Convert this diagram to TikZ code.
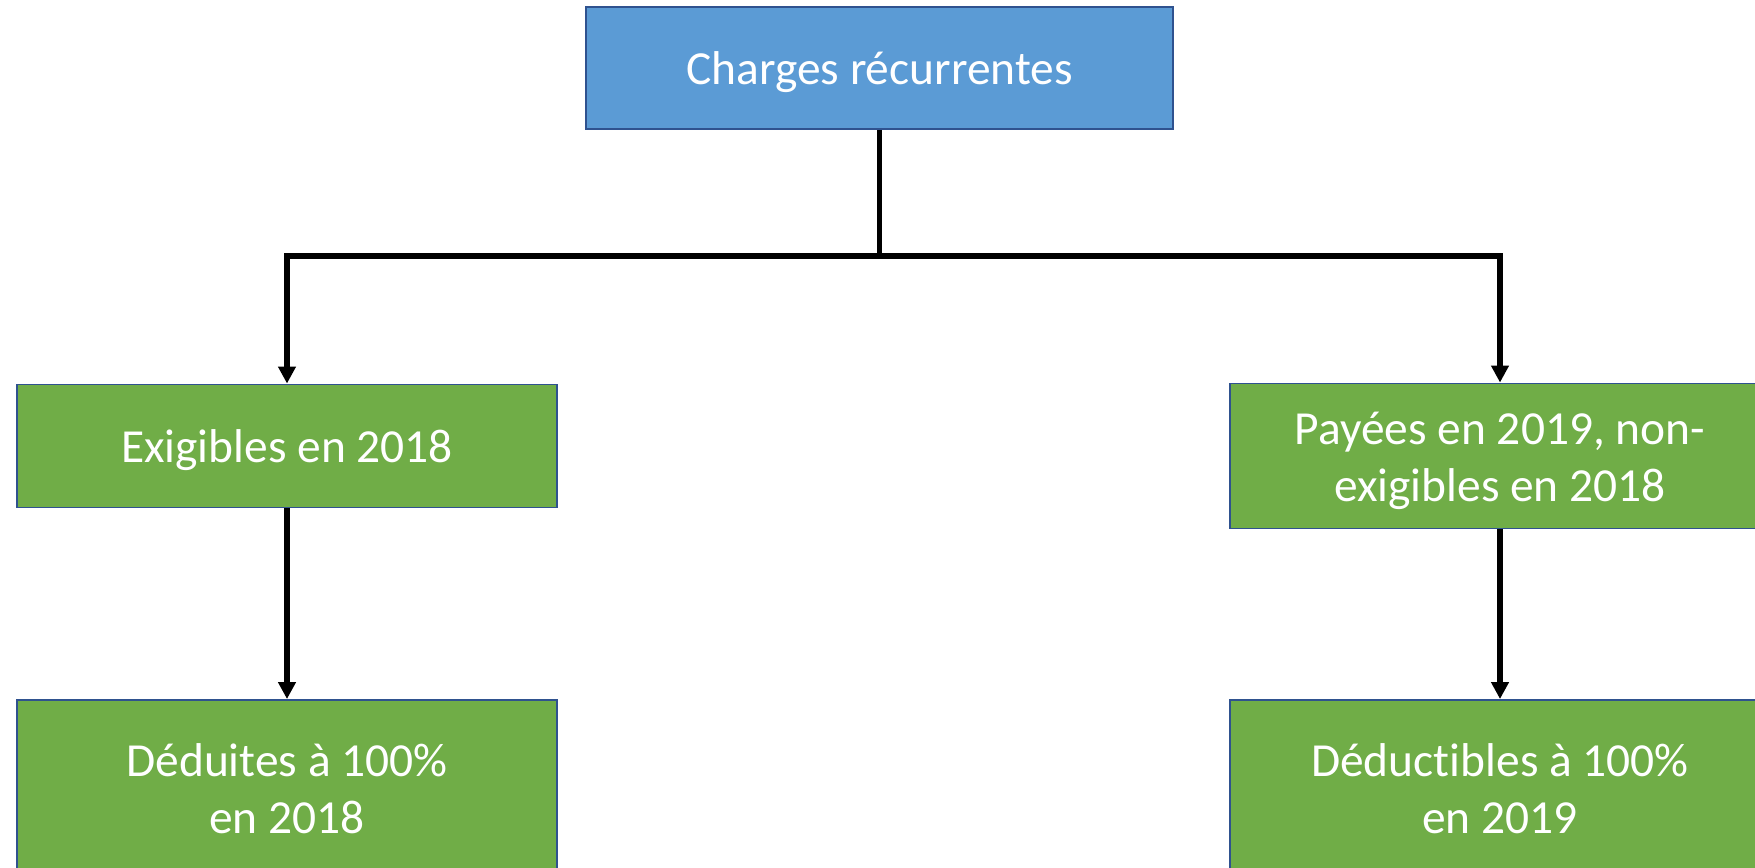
\documentclass[tikz,border=0pt]{standalone}
\usepackage{fontspec}
\setmainfont{Carlito}[Ligatures=NoCommon]
\usetikzlibrary{arrows.meta}
\definecolor{hdrblue}{HTML}{5B9BD5}
\definecolor{leafgreen}{HTML}{70AD47}
\definecolor{edgeblue}{HTML}{2F528F}
\tikzset{
  chargebox/.style={draw=edgeblue, line width=1.1pt, text=white, align=center,
    font=\fontsize{27}{32.6}\selectfont, inner sep=0pt, minimum width=10.82cm,
    text height=19.2pt, text depth=0pt},
  twolines/.style={text height=51.8pt, text depth=0pt},
  headbox/.style={chargebox, fill=hdrblue, minimum width=11.74cm, minimum height=2.44cm},
  greenbox/.style={chargebox, fill=leafgreen},
  link/.style={->, line width=3pt}
}
\begin{document}
\begin{tikzpicture}[x=0.02cm, y=-0.02cm, >={Triangle[length=3.4mm, width=3.4mm]}]
\useasboundingbox (0,0) rectangle (1755,868);
\clip (0,0) rectangle (1755,868);
\node[headbox] (charges) at (879.5,68) {Charges récurrentes};
\node[greenbox, minimum height=2.46cm] (exig) at (287,446) {Exigibles en 2018};
\node[greenbox, twolines, minimum height=2.9cm] (payees) at (1500,456) {Payées en 2019, non-\\exigibles en 2018};
\node[greenbox, twolines, minimum height=3.52cm] (deduites) at (287,788) {Déduites à 100\%\\en 2018};
\node[greenbox, twolines, minimum height=3.52cm] (deductibles) at (1500,788) {Déductibles à 100\%\\en 2019};
\coordinate (split) at (879.5,256);
\draw[line width=3pt] (charges.south) -- (split);
\draw[link] (split) -| (exig.north);
\draw[link] (split) -| (payees.north);
\draw[link] (exig) -- (deduites);
\draw[link] (payees) -- (deductibles);
\end{tikzpicture}
\end{document}
